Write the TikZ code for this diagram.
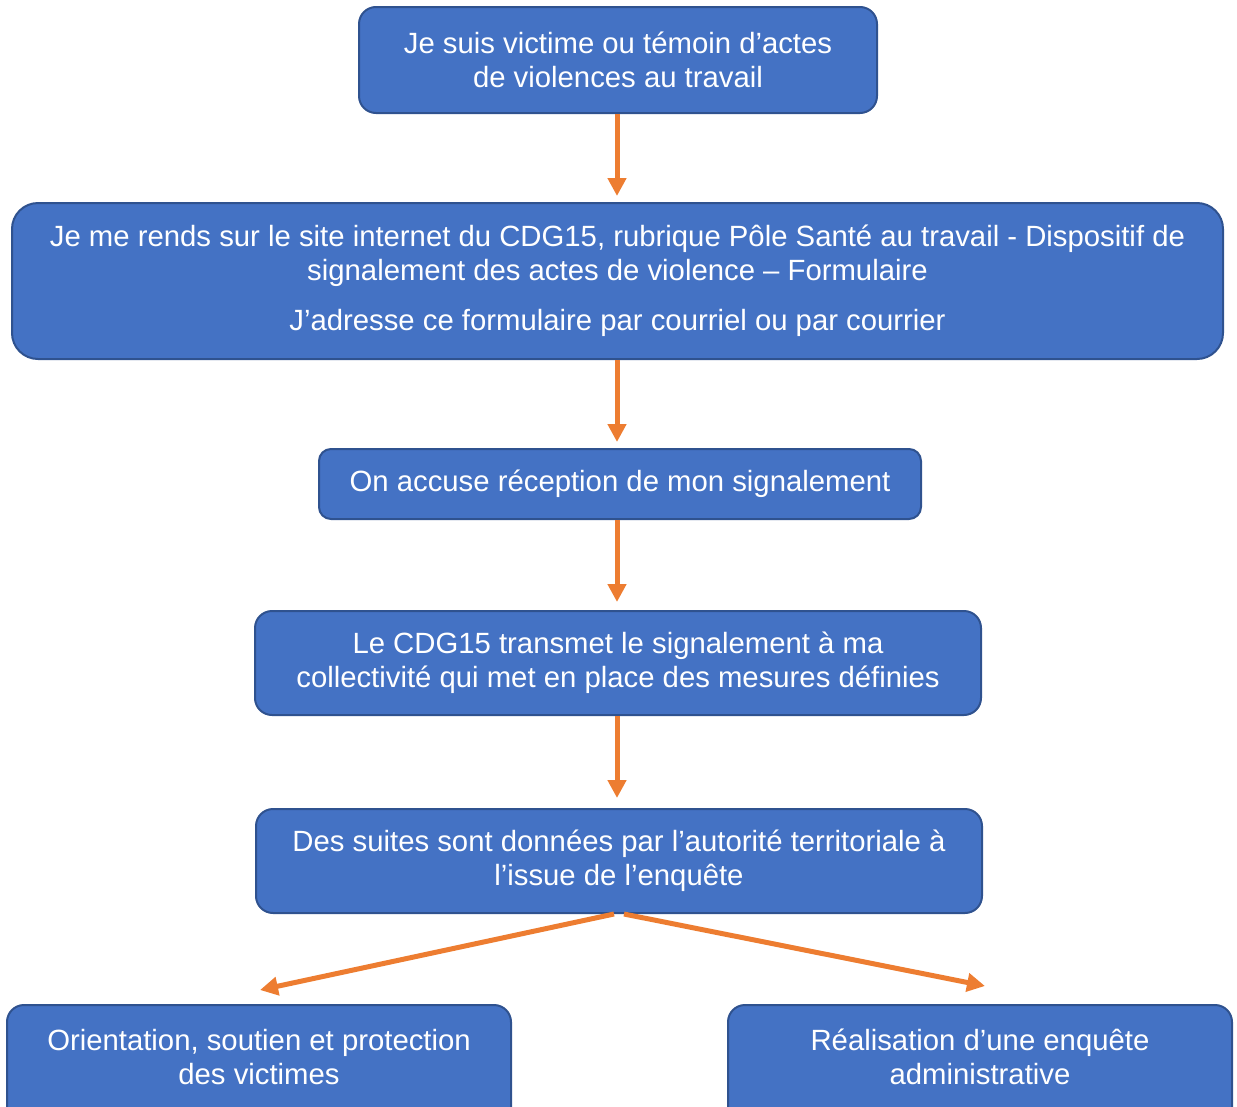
\documentclass[tikz,border=0pt]{standalone}
\usepackage{fontspec}
\setmainfont{Liberation Sans}
\usetikzlibrary{arrows.meta}
\definecolor{boxfill}{HTML}{4472C4}
\definecolor{boxline}{HTML}{2F528F}
\definecolor{arrowc}{HTML}{ED7D31}
\begin{document}
\begin{tikzpicture}[x=1pt,y=-1pt,
  flowbox/.style={draw=boxline, line width=2pt, fill=boxfill, text=white,
    align=center, inner sep=0pt, anchor=center,
    font=\fontsize{29.3}{34}\selectfont},
  flowarrow/.style={draw=arrowc, line width=5pt,
    -{Triangle[width=18pt,length=18pt]}}]
\useasboundingbox (0,0) rectangle (1237,1106);
\begin{scope}
\clip (0,0) rectangle (1237,1106);
\node[flowbox, minimum width=518pt, minimum height=106pt, rounded corners=17pt] (b1) at (618,60)
  {Je suis victime ou témoin d’actes\\de violences au travail};
\node[flowbox, minimum width=1211pt, minimum height=156pt, rounded corners=26pt] (b2) at (617.5,281)
  {Je me rends sur le site internet du CDG15, rubrique Pôle Santé au travail - Dispositif de\\signalement des actes de violence – Formulaire\\[16pt]J’adresse ce formulaire par courriel ou par courrier};
\node[flowbox, minimum width=602pt, minimum height=70pt, rounded corners=12pt] (b3) at (620,484)
  {On accuse réception de mon signalement};
\node[flowbox, minimum width=726pt, minimum height=104pt, rounded corners=17pt] (b4) at (618,663)
  {Le CDG15 transmet le signalement à ma\\collectivité qui met en place des mesures définies};
\node[flowbox, minimum width=726pt, minimum height=104pt, rounded corners=17pt] (b5) at (619,861)
  {Des suites sont données par l’autorité territoriale à\\l’issue de l’enquête};
\node[flowbox, minimum width=504pt, minimum height=120pt, rounded corners=17pt, text depth=0pt] (b6) at (259,1065)
  {};
\node[font=\fontsize{29.3}{34}\selectfont, text=white, align=center, inner sep=0pt] (t6) at (259,1057)
  {Orientation, soutien et protection\\des victimes};
\node[flowbox, minimum width=504pt, minimum height=120pt, rounded corners=17pt] (b7) at (980,1065)
  {};
\node[font=\fontsize{29.3}{34}\selectfont, text=white, align=center, inner sep=0pt] (t7) at (980,1057)
  {Réalisation d’une enquête\\administrative};
\end{scope}
\coordinate (e6) at (260,990);
\coordinate (e7) at (985,986);
\coordinate (s6) at (614,914);
\coordinate (s7) at (624,914);
\draw[flowarrow] (617,114) -- (617,196);
\draw[flowarrow, shorten >=0pt] (b2.south -| 617,0) -- (617,442);
\draw[flowarrow] (b3.south -| 617,0) -- (617,602);
\draw[flowarrow] (b4.south -| 617,0) -- (617,798);
\draw[flowarrow] (s6) -- (e6);
\draw[flowarrow] (s7) -- (e7);
\end{tikzpicture}
\end{document}
